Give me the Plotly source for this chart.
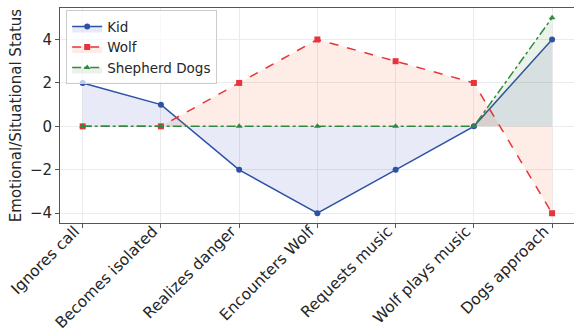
import plotly.graph_objects as go

events = ["Ignores call", "Becomes isolated", "Realizes danger", "Encounters Wolf",
          "Requests music", "Wolf plays music", "Dogs approach"]
kid = [2, 1, -2, -4, -2, 0, 4]
wolf = [0, 0, 2, 4, 3, 2, -4]
dogs = [0, 0, 0, 0, 0, 0, 5]
y_ticks = [-4, -2, 0, 2, 4]

xi = list(range(len(events)))
FONT = "DejaVu Sans"
X_RANGE = [-0.29, 6.28]
LABEL_SHIFT = 0.1  # nudges the rotated labels so their ends sit just left of ticks

fig = go.Figure()
series = [
    ("Kid", kid, "#2c52a6", "solid", "circle", "rgba(70,80,190,0.12)"),
    ("Wolf", wolf, "#e8333b", "dash", "square", "rgba(240,110,50,0.12)"),
    ("Shepherd Dogs", dogs, "#2e8b3e", "dashdot", "triangle-up", "rgba(60,130,40,0.10)"),
]
for name, vals, col, dash, sym, fillc in series:
    fig.add_trace(go.Scatter(
        x=xi, y=vals, name=name, mode="lines+markers",
        line=dict(color=col, width=1.5, dash=dash),
        marker=dict(symbol=sym, size=6, color=col),
        fill="tozeroy", fillcolor=fillc,
    ))
# invisible carrier trace so the label axis is drawn
fig.add_trace(go.Scatter(x=xi, y=kid, xaxis="x2", mode="none",
                         showlegend=False, hoverinfo="skip"))

fig.update_layout(
    width=574, height=336,
    margin=dict(l=60, r=0, t=8, b=113),
    plot_bgcolor="white", paper_bgcolor="white",
    font=dict(family=FONT, size=13, color="#262626"),
    showlegend=True,
    legend=dict(x=0.012, y=0.99, xanchor="left", yanchor="top",
                bgcolor="rgba(255,255,255,0.7)", bordercolor="#cccccc", borderwidth=1,
                font=dict(size=13.5, family=FONT), tracegroupgap=0, itemwidth=30),
    xaxis=dict(
        range=X_RANGE, tickmode="array", tickvals=xi, showticklabels=False,
        automargin=False,
        showgrid=True, gridcolor="#ebebeb", gridwidth=0.8,
        showline=True, linecolor="#555555", linewidth=1, mirror=True,
        ticks="outside", ticklen=4, tickcolor="#555555", zeroline=False,
    ),
    xaxis2=dict(
        overlaying="x", anchor="free", position=0.06, side="bottom",
        range=[X_RANGE[0] + LABEL_SHIFT, X_RANGE[1] + LABEL_SHIFT],
        tickmode="array", tickvals=xi, ticktext=events,
        tickangle=-45, tickfont=dict(size=15.5, family=FONT, color="#262626"),
        showgrid=False, zeroline=False, showline=False,
        ticks="outside", ticklen=5, tickcolor="rgba(0,0,0,0)",
        automargin=False,
    ),
    yaxis=dict(
        range=[-4.45, 5.45], tickvals=y_ticks, ticktext=["\u22124", "\u22122", "0", "2", "4"],
        tickfont=dict(size=15, family=FONT), automargin=False,
        title=dict(text="Emotional/Situational Status", font=dict(size=15, family=FONT), standoff=4),
        showgrid=True, gridcolor="#ebebeb", gridwidth=0.8,
        showline=True, linecolor="#555555", linewidth=1,
        ticks="outside", ticklen=4, tickcolor="#555555", zeroline=False,
    ),
)

fig.write_html("out.html", config={"displayModeBar": False},
               post_script="document.body.style.margin='0px';")
